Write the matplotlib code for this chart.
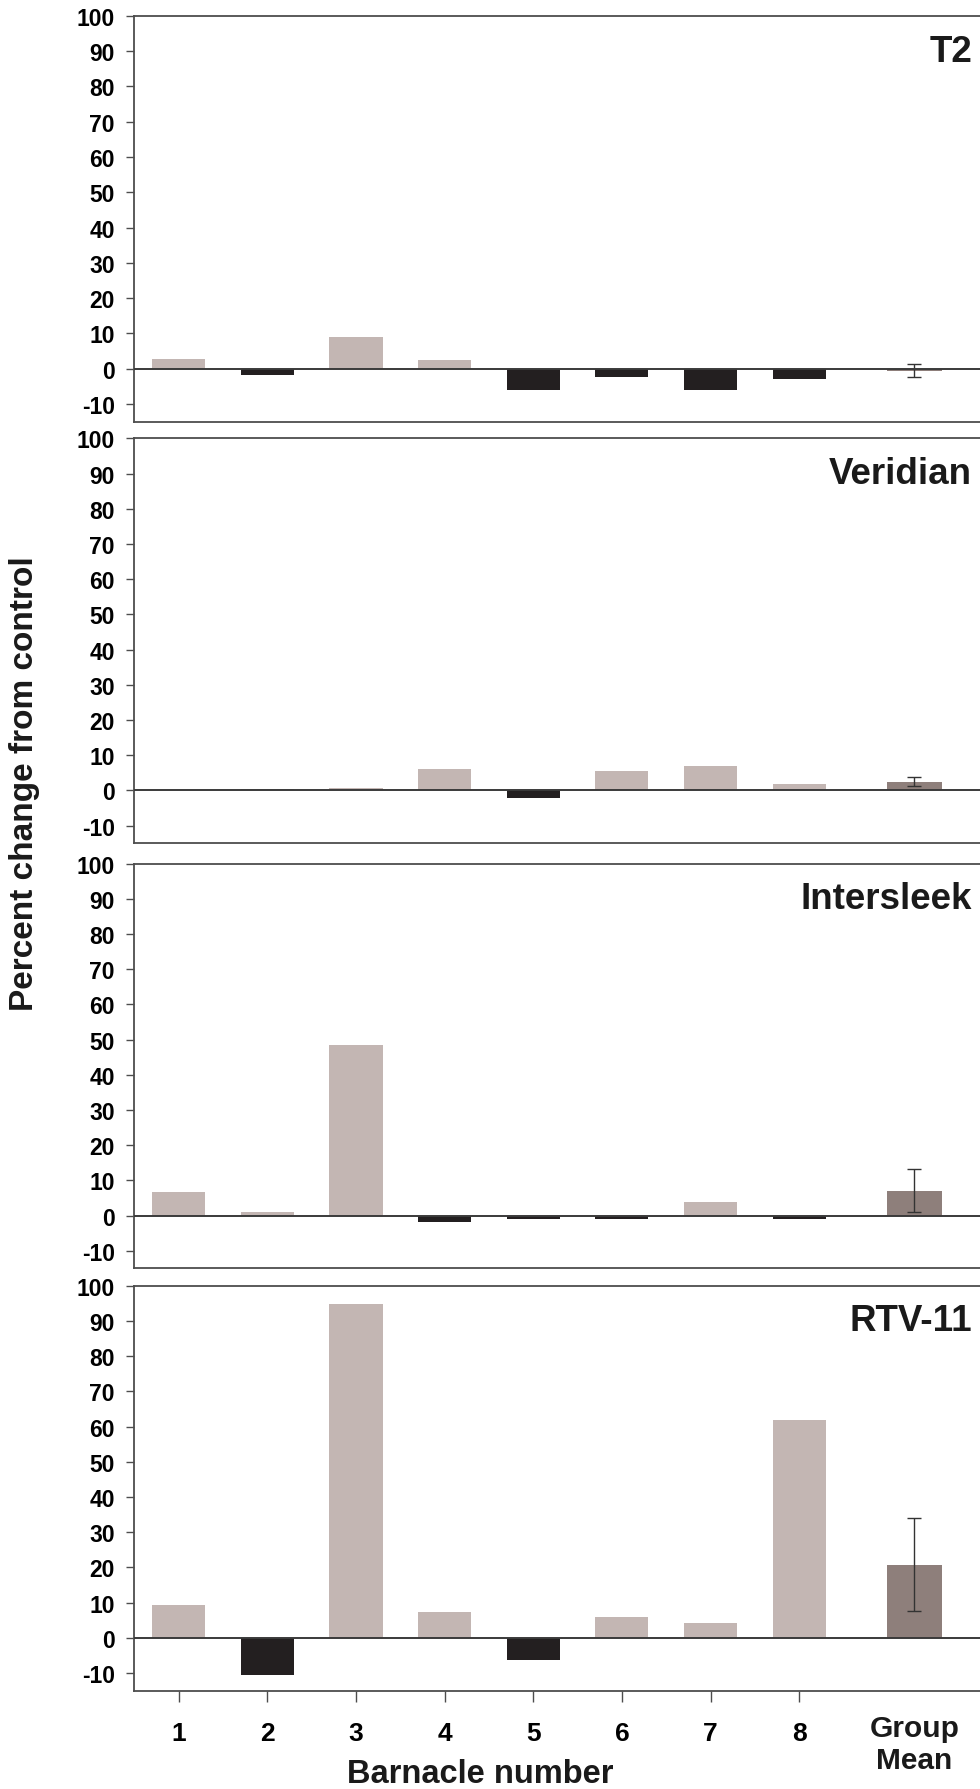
import matplotlib
matplotlib.use("Agg")
import matplotlib.pyplot as plt
import matplotlib.transforms as mtransforms
import numpy as np

plt.rcParams['font.family'] = ['Liberation Sans', 'DejaVu Sans']
plt.rcParams['font.weight'] = 'bold'

# data (percent change from control)
coatings = ['T2', 'Veridian', 'Intersleek', 'RTV-11']
barnacles = [1, 2, 3, 4, 5, 6, 7, 8]
t2 = [2.8, -1.7, 8.9, 2.6, -6.1, -2.2, -5.9, -2.8]
veridian = [0.0, 0.5, 0.7, 6.1, -2.1, 5.6, 7.0, 1.9]
intersleek = [6.7, 1.0, 48.4, -1.9, -0.9, -0.9, 3.9, -0.9]
rtv11 = [9.3, -10.5, 94.9, 7.3, -6.4, 6.0, 4.2, 61.9]
group_mean = [-0.5, 2.5, 7.1, 20.8]
group_err = [1.85, 1.2, 6.0, 13.2]
yticks = [-10, 0, 10, 20, 30, 40, 50, 60, 70, 80, 90, 100]

series = [t2, veridian, intersleek, rtv11]

light = '#c3b6b3'
dark = '#231f20'
mean_col = '#8e7f7b'
frame = '#4d4d4d'

W, H = 980, 1790
fig = plt.figure(figsize=(W / 100, H / 100), dpi=100)

# panel top / bottom edges in pixels
tops = [16.7, 439.3, 864.7, 1286.7]
bots = [422.7, 844.3, 1269.3, 1691.7]
left_px = 134.4
mean_x = 9.3

for i in range(4):
    ax = fig.add_axes([left_px / W, 1 - bots[i] / H, 1 - left_px / W, (bots[i] - tops[i]) / H])
    vals = series[i]
    cols = [light if v >= 0 else dark for v in vals]
    ax.bar(barnacles, vals, width=0.6, color=cols, zorder=2)
    ax.bar([mean_x], [group_mean[i]], width=0.62, color=mean_col, zorder=2)
    ax.errorbar([mean_x], [group_mean[i]], yerr=[group_err[i]], fmt='none',
                ecolor='#333333', elinewidth=1.0, capsize=4.7, capthick=1.0, zorder=3)
    ax.axhline(0, color='#3a3a3a', lw=1.4, zorder=4)

    ax.set_xlim(0.5, 10.04)
    ax.set_ylim(-15, 100)
    ax.set_yticks(yticks)
    ax.set_yticklabels([str(t) for t in yticks], fontsize=16.5, fontweight='bold')
    ax.tick_params(axis='y', direction='out', length=6, width=1.0, color=frame, pad=8)

    for side in ['top', 'bottom', 'left']:
        ax.spines[side].set_color(frame)
        ax.spines[side].set_linewidth(1.3)
    ax.spines['right'].set_visible(False)

    ax.text(0.992, 90, coatings[i], transform=mtransforms.blended_transform_factory(fig.transFigure, ax.transData),
            ha='right', va='center', fontsize=26.5, fontweight='bold', color='#1a1a1a')

    if i < 3:
        ax.set_xticks([])
    else:
        ax.set_xticks(barnacles)
        ax.set_xticklabels([str(b) for b in barnacles], fontsize=19, fontweight='bold')
        ax.tick_params(axis='x', direction='out', length=8, width=1.0, color=frame, pad=14)
        ax.text(mean_x, -0.131, 'Group\nMean', transform=mtransforms.blended_transform_factory(ax.transData, ax.transAxes),
                ha='center', va='center', fontsize=21.5, fontweight='bold', linespacing=1.2, color='#1a1a1a')

fig.text(480 / W, 1 - 1775 / H, 'Barnacle number', ha='center', va='center',
         fontsize=23.5, fontweight='bold', color='#1a1a1a')
fig.text(25 / W, 1 - 784 / H, 'Percent change from control', ha='center', va='center',
         rotation=90, fontsize=24, fontweight='bold', color='#1a1a1a')

fig.savefig('out.png', dpi=100)
